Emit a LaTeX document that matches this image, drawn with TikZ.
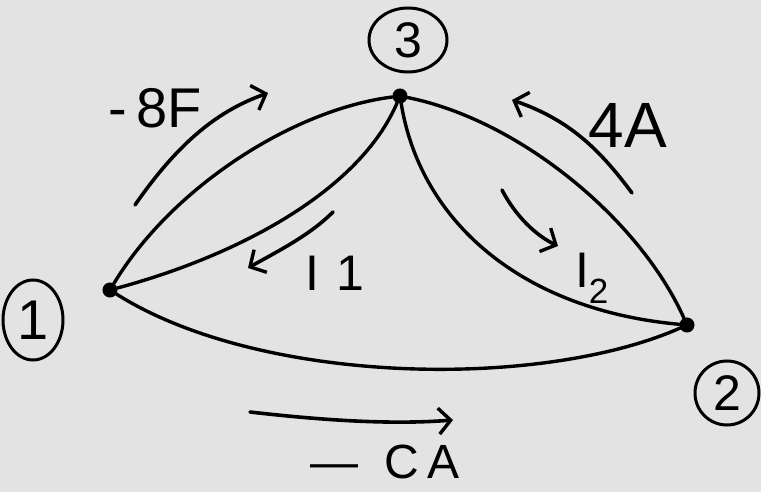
\documentclass[tikz,border=0pt]{standalone}
\usepackage{fontspec}
\setmainfont{Liberation Sans}
\usetikzlibrary{arrows.meta,shapes.geometric}
\begin{document}
\begin{tikzpicture}[x=1pt,y=-1pt,
  wire/.style={line width=3.4pt,line cap=round},
  flow/.style={line width=3.6pt,line cap=round,-{Straight Barb[length=12pt,width=26pt,line width=3.4pt]}},
  vtx/.style={circle,draw,fill=black,line width=2pt,minimum size=13pt,inner sep=0pt},
  ring/.style={ellipse,draw,line width=3pt,inner sep=0pt},
  lbl/.style={inner sep=0pt}]
\useasboundingbox[fill=gray!22] (0,0) rectangle (761,492);
% vertices
\node[vtx] (n1) at (110,290) {};
\node[vtx] (n3) at (400,96) {};
\node[vtx] (n2) at (687,325) {};
% node numbers
\node[ring,minimum width=60pt,minimum height=80pt] (c1) at (33,320) {\fontsize{56}{58}\selectfont 1};
\node[ring,minimum width=78pt,minimum height=64pt] (c3) at (408,40) {\fontsize{50}{52}\selectfont 3};
\node[ring,minimum width=64pt,minimum height=64pt] (c2) at (727,393) {\fontsize{50}{52}\selectfont 2};
% edges
\draw[wire] (n1) .. controls (170,190) and (290,110) .. (n3);
\draw[wire] (n1) .. controls (240,255) and (360,190) .. (n3);
\draw[wire] (n3) .. controls (520,120) and (640,220) .. (n2);
\draw[wire] (n3) .. controls (420,220) and (520,310) .. (n2);
\draw[wire] (n1) .. controls (260,385) and (540,390) .. (n2);
% current arrows
\coordinate (a1s) at (135,205); \coordinate (a1e) at (268,93);
\draw[flow] (a1s) .. controls (180,140) and (220,110) .. (a1e);
\coordinate (a2s) at (632,193); \coordinate (a2e) at (512,100);
\draw[flow] (a2s) .. controls (600,150) and (570,120) .. (a2e);
\coordinate (a3s) at (333,212); \coordinate (a3e) at (248,268);
\draw[flow] (a3s) .. controls (310,235) and (280,250) .. (a3e);
\coordinate (a4s) at (502,190); \coordinate (a4e) at (558,246);
\draw[flow] (a4s) .. controls (515,215) and (535,235) .. (a4e);
\coordinate (a5s) at (250,412); \coordinate (a5e) at (453,420);
\draw[flow] (a5s) .. controls (320,420) and (390,425) .. (a5e);
% labels
\node[lbl] (l8) at (155,108) {\fontsize{56}{58}\selectfont -\,8F};
\node[lbl] (l4) at (628,125) {\fontsize{64}{66}\selectfont 4A};
\node[lbl] (li1) at (335,273) {\fontsize{50}{52}\selectfont I\,\,1};
\node[lbl] (li2) at (592,278) {\fontsize{50}{52}\selectfont I$_{\mathrm{2}}$};
\node[lbl] (l6) at (385,462) {\fontsize{48}{50}\selectfont —\;\;C\,A};
\end{tikzpicture}
\end{document}
